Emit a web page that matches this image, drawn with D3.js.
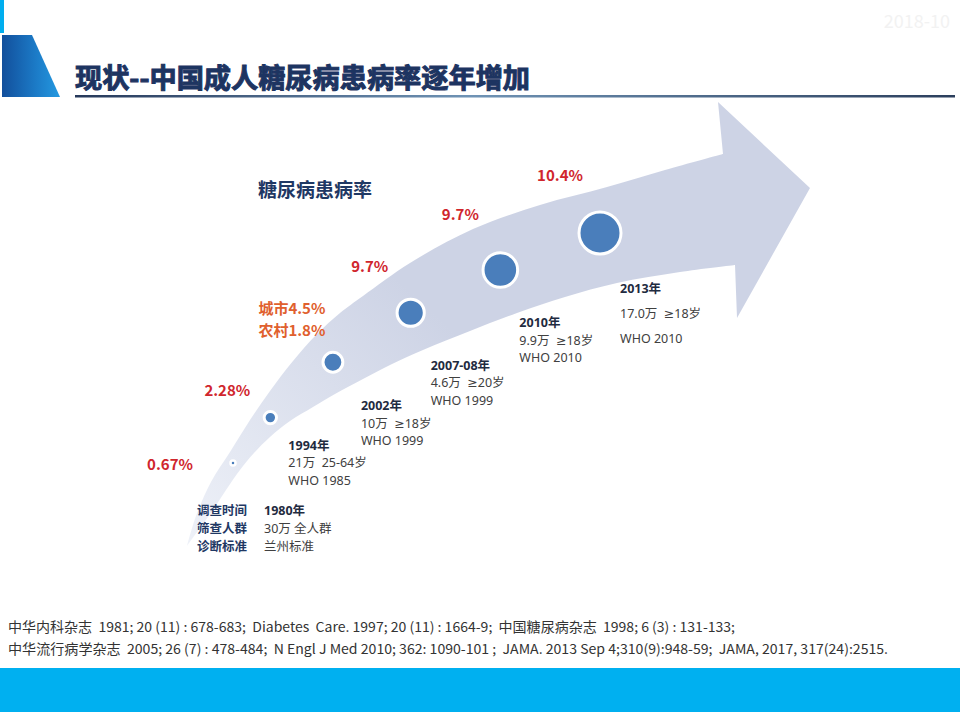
<!DOCTYPE html>
<html>
<head>
<meta charset="utf-8">
<script src="https://cdn.jsdelivr.net/npm/d3@7"></script>
<style>
  body { margin: 0; background: #fff; }
  svg { display: block; }
  text { font-family: "Noto Sans CJK SC", "Noto Sans", sans-serif; white-space: pre; }
  .info { font-family: "Noto Sans", "DejaVu Sans", "Noto Sans CJK SC", sans-serif; }
</style>
</head>
<body>
<div id="chart"></div>
<script>
// ---- data ----
const surveyYears = ['1980年', '1994年', '2002年', '2007-08年', '2010年', '2013年'];
const prevalence = [0.67, 2.28, 4.5, 9.7, 9.7, 10.4];
const prevalenceLabels = [['0.67%'], ['2.28%'], ['城市4.5%', '农村1.8%'], ['9.7%'], ['9.7%'], ['10.4%']];
const sampleSizes = ['30万', '21万', '10万', '4.6万', '9.9万', '17.0万'];
const ageGroups = ['全人群', '25-64岁', '≥18岁', '≥20岁', '≥18岁', '≥18岁'];
const criteria = ['兰州标准', 'WHO 1985', 'WHO 1999', 'WHO 1999', 'WHO 2010', 'WHO 2010'];
const rowHeaders = ['调查时间', '筛查人群', '诊断标准'];
const references = [
  '中华内科杂志  1981; 20 (11) : 678-683;  Diabetes  Care. 1997; 20 (11) : 1664-9;  中国糖尿病杂志  1998; 6 (3) : 131-133;',
  '中华流行病学杂志  2005; 26 (7) : 478-484;  N Engl J Med 2010; 362: 1090-101 ;  JAMA. 2013 Sep 4;310(9):948-59;  JAMA, 2017, 317(24):2515.'
];

// ---- layout ----
const W = 960, H = 720;

// label nudges relative to each bubble
const infoDx = [31, 18, 28, 20, 19, 20];
const infoDy = [52, 32, 48, 57, 57, 60];
const infoGap = [18, 17.5, 17.5, 17.5, 17.5, 25];
const pctDx = [-63, -43, -41, -41, -40, -40];
const pctDy = [7, -22, -48, -41, -50, -52];

// arrow outline (decoration)
const arrowUpper = [[187, 546], [196, 516], [211, 482], [230, 452], [250, 420], [270, 391], [293, 361],
  [317, 334], [340, 313], [363, 296], [410, 263], [473, 229], [540, 205], [607, 187], [665, 170], [723, 154]];
const arrowHead = [[718, 102], [810, 188], [737, 318], [735, 265]];
const arrowLower = [[735, 265], [680, 272], [617, 283], [565, 297], [517, 313], [470, 331], [423, 350],
  [390, 365], [363, 379], [335, 394], [313, 407], [290, 421], [270, 437], [254, 453], [240, 470],
  [226, 490], [213, 510], [200, 528], [187, 546]];

const svg = d3.select('#chart').append('svg')
  .attr('width', W)
  .attr('height', H);

const defs = svg.append('defs');

const gTrap = defs.append('linearGradient').attr('id', 'trap').attr('x1', 0).attr('x2', 1).attr('y1', 0).attr('y2', 0);
gTrap.append('stop').attr('offset', 0).attr('stop-color', '#124f9c');
gTrap.append('stop').attr('offset', 0.6).attr('stop-color', '#1c7cc8');
gTrap.append('stop').attr('offset', 1).attr('stop-color', '#2499e0');

const gLine = defs.append('linearGradient').attr('id', 'uline').attr('x1', 0).attr('x2', 1).attr('y1', 0).attr('y2', 0);
gLine.append('stop').attr('offset', 0).attr('stop-color', '#26395a');
gLine.append('stop').attr('offset', 0.45).attr('stop-color', '#6f93b5');
gLine.append('stop').attr('offset', 1).attr('stop-color', '#2b3e5c');

const gArrow = defs.append('linearGradient').attr('id', 'arrow')
  .attr('gradientUnits', 'userSpaceOnUse')
  .attr('x1', 190).attr('y1', 545).attr('x2', 420).attr('y2', 300);
gArrow.append('stop').attr('offset', 0).attr('stop-color', '#eef1f8');
gArrow.append('stop').attr('offset', 1).attr('stop-color', '#cdd3e5');

// ---- header ----
svg.append('rect').attr('x', 0).attr('y', 0).attr('width', 4).attr('height', 33).attr('fill', '#00aeef');
svg.append('path')
  .attr('d', 'M2,35 L32,35 L60,97 L2,97 Z')
  .attr('fill', 'url(#trap)');

svg.append('text')
  .attr('x', 950).attr('y', 28)
  .attr('text-anchor', 'end')
  .attr('font-size', 18)
  .attr('fill', '#f2f2f2')
  .text('2018-10');

svg.append('text')
  .attr('x', 75).attr('y', 88)
  .attr('font-size', 27)
  .attr('font-weight', 700)
  .attr('fill', '#1d3461')
  .attr('stroke', '#1d3461')
  .attr('stroke-width', 1)
  .attr('textLength', 455)
  .attr('lengthAdjust', 'spacingAndGlyphs')
  .text('现状--中国成人糖尿病患病率逐年增加');

svg.append('rect')
  .attr('x', 75).attr('y', 95).attr('width', 880).attr('height', 2.5)
  .attr('fill', 'url(#uline)');

// ---- arrow ----
const edge = d3.line().curve(d3.curveCatmullRom);
const arrowD = edge(arrowUpper)
  + arrowHead.map(p => 'L' + p[0] + ',' + p[1]).join('')
  + edge(arrowLower).replace(/^M/, 'L') + 'Z';
svg.append('path').attr('d', arrowD).attr('fill', 'url(#arrow)');

// ---- scales ----
const idx = d3.range(surveyYears.length);
const xScale = d3.scalePow().exponent(1.42).domain([0, 5]).range([233, 600]);
const yTrack = d3.scaleLog().domain([113, 480]).range([463, 233]);   // centreline of the arrow
const rScale = d3.scaleLinear().domain([0, 5]).range([2.5, 21]);

const pts = idx.map(i => {
  const x = xScale(i);
  return { i, x, y: yTrack(x - 120), r: rScale(i) };
});

// ---- bubbles ----
svg.append('g').selectAll('circle')
  .data(pts)
  .join('circle')
  .attr('cx', d => d.x)
  .attr('cy', d => d.y)
  .attr('r', d => d.r)
  .attr('fill', '#4a7ebb')
  .attr('stroke', '#fff')
  .attr('stroke-width', d => d.i === 0 ? 2.5 : 3);

// ---- prevalence labels ----
const pct = svg.append('g').selectAll('text')
  .data(pts)
  .join('text')
  .attr('x', d => d.x + pctDx[d.i])
  .attr('y', d => d.y + pctDy[d.i])
  .attr('text-anchor', 'middle')
  .attr('font-size', 15)
  .attr('font-weight', 700)
  .attr('fill', d => d.i === 2 ? '#e0602e' : '#d0262d');
pct.selectAll('tspan')
  .data(d => prevalenceLabels[d.i].map(t => ({ t, d })))
  .join('tspan')
  .attr('x', o => o.d.x + pctDx[o.d.i])
  .attr('dy', (o, k) => k === 0 ? 0 : 21.5)
  .text(o => o.t);

// ---- survey info blocks ----
const info = svg.append('g').selectAll('g')
  .data(pts)
  .join('g')
  .attr('transform', d => `translate(${d.x + infoDx[d.i]},${d.y + infoDy[d.i]})`);

info.append('text')
  .attr('class', 'info')
  .attr('font-size', 12.5)
  .attr('font-weight', 700)
  .attr('fill', '#1f2b40')
  .text(d => surveyYears[d.i]);
info.append('text')
  .attr('class', 'info')
  .attr('y', d => infoGap[d.i])
  .attr('font-size', 12.5)
  .attr('fill', '#404040')
  .text(d => sampleSizes[d.i] + (d.i === 0 ? ' ' : '  ') + ageGroups[d.i]);
info.append('text')
  .attr('class', 'info')
  .attr('y', d => infoGap[d.i] * 2)
  .attr('font-size', 12.5)
  .attr('fill', '#404040')
  .text(d => criteria[d.i]);

// row headers beside the first block
svg.append('g').selectAll('text')
  .data(rowHeaders)
  .join('text')
  .attr('x', 197)
  .attr('y', (d, k) => pts[0].y + infoDy[0] + k * infoGap[0])
  .attr('font-size', 12.5)
  .attr('font-weight', 700)
  .attr('fill', '#1f3864')
  .text(d => d);

// chart caption
svg.append('text')
  .attr('x', 258).attr('y', 197)
  .attr('font-size', 19)
  .attr('font-weight', 700)
  .attr('fill', '#1f3864')
  .text('糖尿病患病率');

// ---- references and footer band ----
const refWidth = [727, 880];
svg.append('g').selectAll('text')
  .data(references)
  .join('text')
  .attr('x', 8)
  .attr('y', (d, k) => 632 + k * 22)
  .attr('font-size', 13.5)
  .attr('fill', '#333')
  .attr('textLength', (d, k) => refWidth[k])
  .attr('lengthAdjust', 'spacingAndGlyphs')
  .text(d => d);

svg.append('rect')
  .attr('x', 0).attr('y', 668).attr('width', W).attr('height', 44)
  .attr('fill', '#00b0f0');
</script>
</body>
</html>
